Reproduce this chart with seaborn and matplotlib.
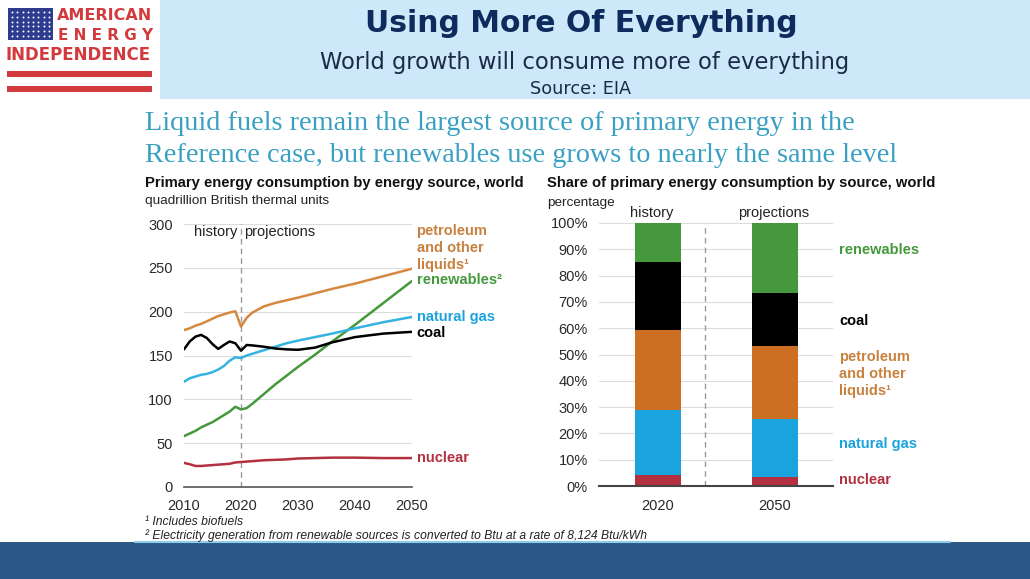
import numpy as np
import pandas as pd
import matplotlib
matplotlib.use("Agg")
import matplotlib.pyplot as plt
import seaborn as sns
from matplotlib.patches import Rectangle

# ---------------- data ----------------
years = [2010, 2011, 2012, 2013, 2014, 2015, 2016, 2017, 2018, 2019, 2020, 2021,
         2022, 2024, 2026, 2028, 2030, 2033, 2036, 2040, 2045, 2050]
petroleum = [179, 181, 184, 186, 189, 192, 195, 197, 199, 200.5, 183, 193,
             199, 206, 210, 213, 216, 221, 226, 232, 240.5, 249]
renewables = [58, 61, 64, 68, 71, 74, 78, 82, 86, 91.5, 88.5, 90,
              95, 106, 117, 127, 137, 151, 166, 185, 210, 235]
natural_gas = [120, 124, 126, 128, 129, 131, 134, 138, 144, 148, 147, 150,
               152, 156, 160, 164, 167, 171, 175, 181, 188, 194]
coal = [157, 166, 171.5, 173.5, 170, 163, 157.5, 162, 166, 164, 155.5, 162,
        161.5, 160, 158, 157, 156.5, 159, 165, 171, 175, 177]
nuclear = [27.5, 26, 24, 24, 24.5, 25, 25.5, 26, 26.5, 28, 28.5, 29,
           29.5, 30.5, 31, 31.5, 32.5, 33, 33.5, 33.5, 33, 33]

share_years = ["2020", "2050"]
share_nuclear = [4.2, 3.3]
share_natural_gas = [24.7, 22.1]
share_petroleum = [30.4, 28.0]
share_coal = [25.9, 20.0]
share_renewables = [14.8, 26.6]

left_yticks = [0, 50, 100, 150, 200, 250, 300]
left_xticks = [2010, 2020, 2030, 2040, 2050]
right_yticks = [0, 10, 20, 30, 40, 50, 60, 70, 80, 90, 100]

# ---------------- style ----------------
sns.set_style("white")
plt.rcParams["font.family"] = ["Liberation Sans", "DejaVu Sans"]

C_PET_LINE = "#d5893f"
C_PET_BAR = "#cc6f22"
C_PET_TXT = "#c8813e"
C_REN = "#45993c"
C_GAS_LINE = "#35b3e0"
C_GAS_BAR = "#1aa3dc"
C_COAL = "#000000"
C_NUC = "#b33040"
GRID = "#dcdcdc"
TICK = "#2a2a2a"

W, H = 1030, 579
fig = plt.figure(figsize=(W / 100, H / 100), dpi=100)
fig.patch.set_facecolor("white")

# background / slide layer in pixel coordinates
bg = fig.add_axes([0, 0, 1, 1], zorder=0)
bg.set_xlim(0, W)
bg.set_ylim(H, 0)
bg.axis("off")

bg.add_patch(Rectangle((160, 0), W - 160, 99, color="#cde8f8", lw=0))
bg.add_patch(Rectangle((0, 542), W, H - 542, color="#2b5886", lw=0))
bg.plot([135, 950], [541.5, 541.5], color="#8fcdea", lw=1.5)

# logo
bg.add_patch(Rectangle((8, 8), 45, 32, color="#2d3c8e", lw=0))
sx, sy = np.meshgrid(np.linspace(12, 49, 8), np.linspace(12, 36, 6))
bg.scatter(sx.ravel(), sy.ravel(), s=2.0, color="white", lw=0)
red = "#d23a3d"
bg.text(105, 16, "AMERICAN", color=red, fontsize=11.5, fontweight="bold",
        ha="center", va="center", family="DejaVu Sans")
bg.text(106, 36, "E N E R G Y", color=red, fontsize=11, fontweight="bold",
        ha="center", va="center", family="DejaVu Sans")
bg.text(78, 55, "INDEPENDENCE", color=red, fontsize=12, fontweight="bold",
        ha="center", va="center", family="DejaVu Sans")
bg.add_patch(Rectangle((7, 71), 145, 6, color=red, lw=0))
bg.add_patch(Rectangle((7, 86), 145, 6, color=red, lw=0))

# header texts
bg.text(581, 23, "Using More Of Everything", color="#0e2b5e", fontsize=21.5,
        fontweight="bold", ha="center", va="center", family="DejaVu Sans")
bg.text(585, 62, "World growth will consume more of everything", color="#1b2a48",
        fontsize=16.3, ha="center", va="center", family="DejaVu Sans")
bg.text(581, 89, "Source: EIA", color="#1b2a48", fontsize=12.7, ha="center",
        va="center", family="DejaVu Sans")

teal = "#3aa0c2"
bg.text(145, 123, "Liquid fuels remain the largest source of primary energy in the",
        color=teal, fontsize=20.3, ha="left", va="center", family="Liberation Serif")
bg.text(145, 156, "Reference case, but renewables use grows to nearly the same level",
        color=teal, fontsize=20.3, ha="left", va="center", family="Liberation Serif")

# chart titles
bg.text(145, 183, "Primary energy consumption by energy source, world", fontsize=10.6,
        fontweight="bold", ha="left", va="center", color="#111111")
bg.text(145, 201, "quadrillion British thermal units", fontsize=9.7, ha="left",
        va="center", color="#222222")
bg.text(547, 183, "Share of primary energy consumption by source, world", fontsize=10.6,
        fontweight="bold", ha="left", va="center", color="#111111")
bg.text(547, 203, "percentage", fontsize=9.7, ha="left", va="center", color="#222222")

# footnotes
bg.text(145, 522, "¹ Includes biofuels", fontsize=8.7, style="italic", ha="left",
        va="center", color="#222222")
bg.text(145, 536, "² Electricity generation from renewable sources is converted to Btu at a rate of 8,124 Btu/kWh",
        fontsize=8.7, style="italic", ha="left", va="center", color="#222222")


def axes_px(l, t, r, b):
    return fig.add_axes([l / W, 1 - b / H, (r - l) / W, (b - t) / H], zorder=2)


# ---------------- left: line chart ----------------
ax1 = axes_px(184, 224, 412, 487)
ax1.patch.set_alpha(0)
series = {
    "petroleum": petroleum,
    "renewables": renewables,
    "natural gas": natural_gas,
    "coal": coal,
    "nuclear": nuclear,
}
df = pd.DataFrame(
    [(y, k, v) for k, vals in series.items() for y, v in zip(years, vals)],
    columns=["year", "source", "value"],
)
palette = {"petroleum": C_PET_LINE, "renewables": C_REN, "natural gas": C_GAS_LINE,
           "coal": C_COAL, "nuclear": C_NUC}
sns.lineplot(data=df, x="year", y="value", hue="source", palette=palette, ax=ax1,
             legend=False, linewidth=1.8)
ax1.set_xlim(2010, 2050)
ax1.set_ylim(0, 300)
ax1.set_xticks(left_xticks)
ax1.set_yticks(left_yticks)
ax1.set_xlabel("")
ax1.set_ylabel("")
ax1.yaxis.grid(True, color=GRID, lw=0.8)
ax1.set_axisbelow(True)
for s in ["top", "right", "left"]:
    ax1.spines[s].set_visible(False)
ax1.spines["bottom"].set_color("#555555")
ax1.spines["bottom"].set_linewidth(1.2)
ax1.tick_params(axis="y", length=0, pad=8, labelsize=10.5, labelcolor=TICK)
ax1.tick_params(axis="x", direction="inout", length=6, width=1, color="#555555",
                pad=6, labelsize=10.5, labelcolor=TICK)
ax1.axvline(2020, color="#9a9a9a", ls=(0, (4, 3)), lw=1, zorder=1)
ax1.text(2019.4, 291, "history", ha="right", va="center", fontsize=10.5, color="#222222")
ax1.text(2020.6, 291, "projections", ha="left", va="center", fontsize=10.5, color="#222222")

lbl = dict(fontsize=10.5, fontweight="bold", ha="left", va="center", clip_on=False)
ax1.text(2050.8, 272.5, "petroleum\nand other\nliquids¹", color=C_PET_TXT,
         linespacing=1.28, **lbl)
ax1.text(2050.8, renewables[-1] + 1, "renewables²", color=C_REN, **lbl)
ax1.text(2050.8, natural_gas[-1], "natural gas", color=C_GAS_BAR, **lbl)
ax1.text(2050.8, coal[-1] - 1, "coal", color=C_COAL, **lbl)
ax1.text(2050.8, nuclear[-1], "nuclear", color=C_NUC, **lbl)

# ---------------- right: stacked share bars ----------------
ax2 = axes_px(599, 223, 833, 486)
ax2.patch.set_alpha(0)
layers = [
    ("nuclear", share_nuclear, C_NUC),
    ("natural gas", share_natural_gas, C_GAS_BAR),
    ("petroleum", share_petroleum, C_PET_BAR),
    ("coal", share_coal, C_COAL),
    ("renewables", share_renewables, C_REN),
]
cum = np.cumsum([np.array(v) for _, v, _ in layers], axis=0)
for i in range(len(layers) - 1, -1, -1):
    sns.barplot(x=share_years, y=cum[i], color=layers[i][2], saturation=1,
                width=0.393, linewidth=0, ax=ax2, zorder=2)
ax2.set_xlim(-0.504, 1.496)
ax2.set_ylim(0, 100)
ax2.set_yticks(right_yticks)
ax2.set_yticklabels([f"{t}%" for t in right_yticks])
ax2.yaxis.grid(True, color=GRID, lw=0.8)
ax2.set_axisbelow(True)
for s in ["top", "right", "left"]:
    ax2.spines[s].set_visible(False)
ax2.spines["bottom"].set_color("#444444")
ax2.spines["bottom"].set_linewidth(1.5)
ax2.tick_params(axis="y", length=0, pad=8, labelsize=10.5, labelcolor=TICK)
ax2.tick_params(axis="x", length=0, pad=9, labelsize=10.5, labelcolor=TICK)
ax2.axvline(0.40, color="#9a9a9a", ls=(0, (4, 3)), lw=1, ymax=0.99, zorder=1)
ax2.text(-0.05, 103.8, "history", ha="center", va="center", fontsize=10.5,
         color="#222222", clip_on=False)
ax2.text(0.99, 103.8, "projections", ha="center", va="center", fontsize=10.5,
         color="#222222", clip_on=False)

rl = dict(fontsize=10.5, fontweight="bold", ha="left", va="center")
bg.text(839, 250, "renewables", color=C_REN, **rl)
bg.text(839, 321, "coal", color=C_COAL, **rl)
bg.text(839, 374, "petroleum\nand other\nliquids¹", color=C_PET_TXT, linespacing=1.28, **rl)
bg.text(839, 444, "natural gas", color=C_GAS_BAR, **rl)
bg.text(839, 480, "nuclear", color=C_NUC, **rl)

fig.savefig("out.png", dpi=100, facecolor="white")
